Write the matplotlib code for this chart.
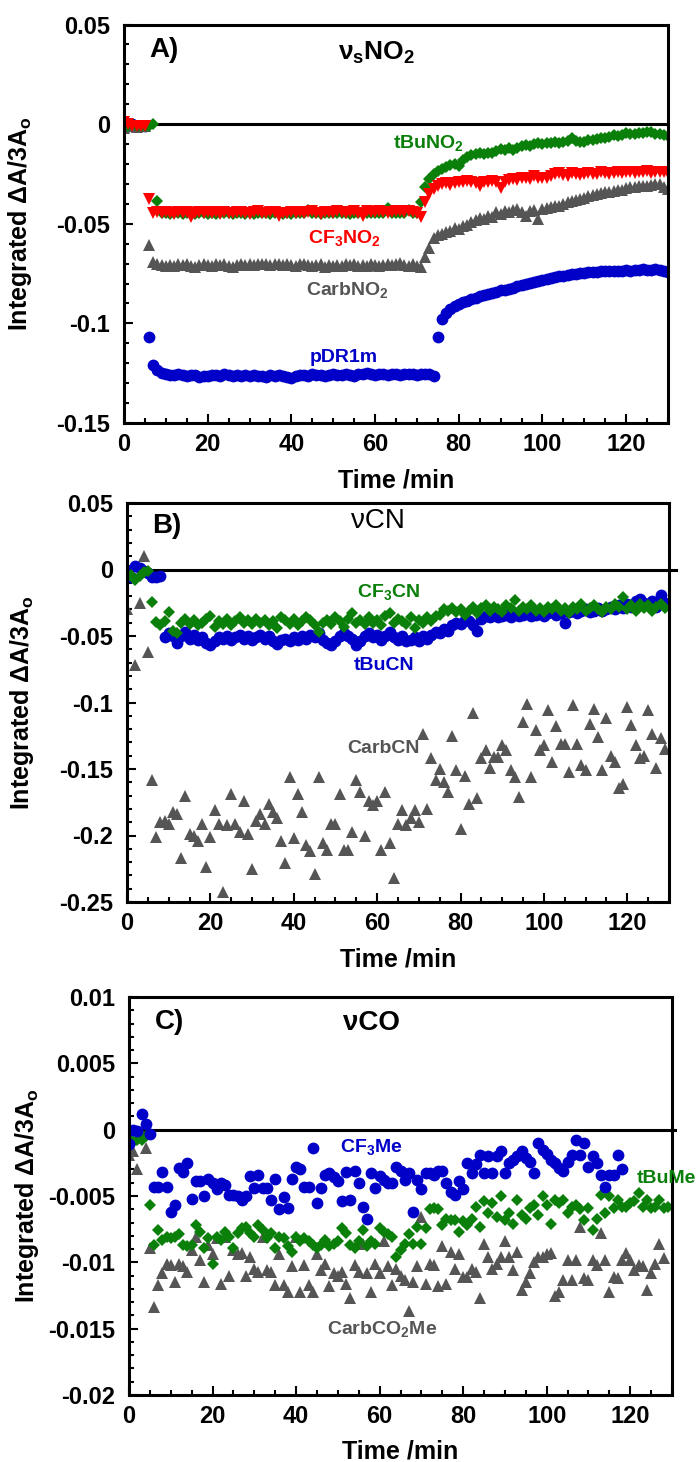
import numpy as np
import matplotlib
matplotlib.use("Agg")
import matplotlib.pyplot as plt
from matplotlib.ticker import MultipleLocator, FuncFormatter

plt.rcParams["font.family"] = ["Liberation Sans", "DejaVu Sans"]
plt.rcParams["font.weight"] = "bold"
plt.rcParams["axes.labelweight"] = "bold"
plt.rcParams["mathtext.fontset"] = "custom"
plt.rcParams["mathtext.rm"] = "Liberation Sans:bold"
plt.rcParams["mathtext.it"] = "Liberation Sans:bold"
plt.rcParams["mathtext.bf"] = "Liberation Sans:bold"
plt.rcParams["axes.unicode_minus"] = False

BLUE = "#0000c8"
GREEN = "#0a7f0a"
RED = "#ff0000"
GRAY = "#555555"

# ---- panel A: nu_s NO2 (one point per minute from t = 0) ----
a_pdr1m = [
    0.000, -0.001, 0.000, -0.001, -0.001, -0.001,
    -0.107, -0.121, -0.1235, -0.125, -0.1255,
    -0.126, -0.1258, -0.1255, -0.126, -0.1265, -0.1258, -0.126, -0.1268, -0.1262, -0.1265,
    -0.126, -0.1258, -0.1262, -0.1255, -0.126, -0.1262, -0.1258, -0.1265, -0.126, -0.1262,
    -0.1258, -0.1262, -0.1265, -0.1268, -0.126, -0.1262, -0.1258, -0.1265, -0.1268, -0.1272,
    -0.1265, -0.126, -0.1258, -0.1262, -0.1255, -0.126, -0.1258, -0.1262, -0.126, -0.1255,
    -0.1258, -0.126, -0.1255, -0.1258, -0.1262, -0.1255, -0.1252, -0.1248, -0.1255, -0.1258,
    -0.1255, -0.1252, -0.1258, -0.1255, -0.1252, -0.1258, -0.1255, -0.1252, -0.1255, -0.1258,
    -0.1255, -0.1252, -0.1255, -0.1262,
    -0.107, -0.098, -0.095, -0.093, -0.0915, -0.0905,
    -0.0895, -0.089, -0.088, -0.0875, -0.0865, -0.086, -0.0855, -0.085, -0.0845, -0.0835,
    -0.083, -0.0825, -0.082, -0.081, -0.0805, -0.080, -0.0795, -0.079, -0.0785, -0.078,
    -0.0775, -0.077, -0.0765, -0.0762, -0.076, -0.0755, -0.0752, -0.075, -0.0748, -0.0745,
    -0.0742, -0.074, -0.0742, -0.0738, -0.0735, -0.0738, -0.0735, -0.0738, -0.0735, -0.0732,
    -0.0735, -0.073, -0.0732, -0.0728, -0.073, -0.0732, -0.0728, -0.073, -0.0735, -0.074,
]
a_carb = [
    -0.002, -0.001, -0.001, -0.0015, -0.001, -0.001,
    -0.0607, -0.0690, -0.0700, -0.0705, -0.0710,
    -0.0705, -0.0712, -0.0700, -0.0708, -0.0702, -0.0710, -0.0715, -0.0705, -0.0700, -0.0708,
    -0.0712, -0.0702, -0.0706, -0.0700, -0.0710, -0.0715, -0.0705, -0.0700, -0.0708, -0.0702,
    -0.0706, -0.0700, -0.0704, -0.0702, -0.0706, -0.0700, -0.0704, -0.0708, -0.0702, -0.0706,
    -0.0710, -0.0704, -0.0700, -0.0708, -0.0712, -0.0706, -0.0702, -0.0715, -0.0708, -0.0712,
    -0.0706, -0.0710, -0.0702, -0.0708, -0.0700, -0.0712, -0.0706, -0.0710, -0.0704, -0.0708,
    -0.0712, -0.0706, -0.0702, -0.0708, -0.0700, -0.0695, -0.0706, -0.0710, -0.0700, -0.0712,
    -0.0718, -0.0666, -0.0624, -0.0574,
    -0.0557, -0.0550, -0.0540, -0.0535, -0.0520, -0.0525,
    -0.0510, -0.0507, -0.0490, -0.0480, -0.0470, -0.0475, -0.0460, -0.0465, -0.0440, -0.0450,
    -0.0435, -0.0440, -0.0432, -0.0425, -0.0440, -0.0460, -0.0435, -0.0430, -0.0475, -0.0424,
    -0.0420, -0.0415, -0.0410, -0.0410, -0.0400, -0.0390, -0.0385, -0.0380, -0.0374, -0.0370,
    -0.0360, -0.0358, -0.0350, -0.0345, -0.0340, -0.0340, -0.0335, -0.0333, -0.0330, -0.0320,
    -0.0316, -0.0316, -0.0310, -0.0310, -0.0310, -0.0305, -0.0300, -0.0300, -0.0315, -0.0324,
]
a_tbu = [
    -0.001, -0.001, 0.000, -0.001, -0.001, -0.001, -0.001, 0.000,
    -0.0387, -0.0448, -0.0445,
    -0.0450, -0.0446, -0.0448, -0.0452, -0.0445, -0.0448, -0.0450, -0.0446, -0.0448, -0.0452,
    -0.0448, -0.0450, -0.0446, -0.0448, -0.0445, -0.0450, -0.0448, -0.0446, -0.0452, -0.0448,
    -0.0450, -0.0446, -0.0448, -0.0445, -0.0450, -0.0448, -0.0446, -0.0452, -0.0448, -0.0450,
    -0.0446, -0.0448, -0.0445, -0.0430, -0.0448, -0.0446, -0.0450, -0.0448, -0.0446, -0.0448,
    -0.0445, -0.0448, -0.0446, -0.0450, -0.0448, -0.0445, -0.0448, -0.0446, -0.0448, -0.0445,
    -0.0446, -0.0448, -0.0420, -0.0445, -0.0448, -0.0446, -0.0445, -0.0430, -0.0448, -0.0445,
    -0.0390, -0.0316, -0.0274, -0.0248,
    -0.0235, -0.0225, -0.0215, -0.0205, -0.0198, -0.0210,
    -0.0180, -0.0165, -0.0155, -0.0150, -0.0147, -0.0150, -0.0143, -0.0147, -0.0135, -0.0125,
    -0.0130, -0.0122, -0.0130, -0.0120, -0.0110, -0.0105, -0.0110, -0.0100, -0.0097, -0.0102,
    -0.0095, -0.0097, -0.0092, -0.0095, -0.0089, -0.0085, -0.0072, -0.0085, -0.0088, -0.0089,
    -0.0082, -0.0078, -0.0075, -0.0072, -0.0068, -0.0065, -0.0056, -0.0062, -0.0055, -0.0047,
    -0.0052, -0.0050, -0.0047, -0.0045, -0.0042, -0.0039, -0.0048, -0.0050, -0.0055, -0.0058,
]
a_cf3 = [
    0.001, 0.000, -0.001, -0.001, -0.001, -0.001,
    -0.0376, -0.0445, -0.0440, -0.0448, -0.0442,
    -0.0445, -0.0450, -0.0442, -0.0448, -0.0440, -0.0465, -0.0445, -0.0442, -0.0448, -0.0440,
    -0.0445, -0.0442, -0.0450, -0.0440, -0.0445, -0.0448, -0.0442, -0.0440, -0.0445, -0.0450,
    -0.0442, -0.0438, -0.0445, -0.0448, -0.0442, -0.0440, -0.0462, -0.0445, -0.0448, -0.0442,
    -0.0445, -0.0440, -0.0448, -0.0442, -0.0438, -0.0445, -0.0450, -0.0442, -0.0440, -0.0445,
    -0.0438, -0.0442, -0.0445, -0.0440, -0.0435, -0.0445, -0.0462, -0.0438, -0.0442, -0.0440,
    -0.0435, -0.0442, -0.0445, -0.0440, -0.0438, -0.0435, -0.0440, -0.0438, -0.0442, -0.0448,
    -0.0465, -0.0390, -0.0350, -0.0325,
    -0.0310, -0.0300, -0.0295, -0.0307, -0.0295, -0.0292,
    -0.0288, -0.0285, -0.0290, -0.0295, -0.0310, -0.0292, -0.0288, -0.0285, -0.0292, -0.0323,
    -0.0288, -0.0280, -0.0275, -0.0280, -0.0270, -0.0268, -0.0275, -0.0262, -0.0270, -0.0268,
    -0.0272, -0.0258, -0.0252, -0.0245, -0.0255, -0.0258, -0.0245, -0.0250, -0.0255, -0.0248,
    -0.0245, -0.0250, -0.0248, -0.0242, -0.0245, -0.0250, -0.0245, -0.0240, -0.0245, -0.0238,
    -0.0242, -0.0245, -0.0238, -0.0242, -0.0235, -0.0245, -0.0240, -0.0238, -0.0242, -0.0245,
]

# ---- panel B: nu CN ----
b_tbu = [
    0.000, -0.006, 0.003, 0.001, -0.001, -0.003, -0.006, -0.006, -0.005, -0.051,
    -0.048, -0.050, -0.055, -0.050, -0.047, -0.052, -0.049, -0.053, -0.051, -0.055,
    -0.057, -0.054, -0.051, -0.052, -0.050, -0.053, -0.051, -0.049, -0.052, -0.050,
    -0.053, -0.051, -0.049, -0.052, -0.050, -0.054, -0.056, -0.053, -0.052, -0.054,
    -0.051, -0.053, -0.050, -0.052, -0.049, -0.051, -0.048, -0.053, -0.055, -0.057,
    -0.054, -0.050, -0.048, -0.050, -0.052, -0.057, -0.054, -0.050, -0.048, -0.051,
    -0.049, -0.053, -0.050, -0.047, -0.051, -0.053, -0.050, -0.054, -0.053, -0.051,
    -0.054, -0.050, -0.052, -0.049, -0.047, -0.048, -0.045, -0.046, -0.042, -0.040,
    -0.041, -0.038, -0.039, -0.042, -0.046, -0.037, -0.035, -0.036, -0.034, -0.036,
    -0.035, -0.034, -0.036, -0.033, -0.035, -0.034, -0.032, -0.035, -0.034, -0.033,
    -0.035, -0.033, -0.031, -0.034, -0.033, -0.040, -0.032, -0.031, -0.033, -0.031,
    -0.030, -0.032, -0.031, -0.029, -0.031, -0.030, -0.028, -0.030, -0.027, -0.029,
    -0.026, -0.028, -0.024, -0.022, -0.025, -0.027, -0.024, -0.028, -0.019, -0.025,
]
b_cf3 = [
    -0.006, -0.004, -0.008, -0.005, -0.002, -0.001, -0.0245, -0.0395, -0.042, -0.039,
    -0.032, -0.046, -0.048, -0.040, -0.037, -0.041, -0.038, -0.042, -0.040, -0.037,
    -0.035, -0.043, -0.039, -0.041, -0.037, -0.042, -0.039, -0.036, -0.040, -0.038,
    -0.041, -0.037, -0.040, -0.038, -0.042, -0.039, -0.044, -0.036, -0.038, -0.041,
    -0.037, -0.042, -0.039, -0.036, -0.038, -0.042, -0.047, -0.040, -0.038, -0.041,
    -0.036, -0.039, -0.043, -0.037, -0.033, -0.040, -0.038, -0.041, -0.036, -0.040,
    -0.038, -0.042, -0.035, -0.033, -0.040, -0.037, -0.039, -0.041, -0.036, -0.044,
    -0.038, -0.040, -0.036, -0.039, -0.035, -0.034, -0.030, -0.031, -0.029, -0.032,
    -0.030, -0.034, -0.031, -0.028, -0.033, -0.029, -0.027, -0.031, -0.028, -0.030,
    -0.032, -0.027, -0.029, -0.023, -0.031, -0.028, -0.030, -0.027, -0.031, -0.029,
    -0.032, -0.028, -0.030, -0.027, -0.031, -0.029, -0.033, -0.028, -0.030, -0.026,
    -0.031, -0.029, -0.027, -0.030, -0.032, -0.028, -0.030, -0.026, -0.028, -0.021,
    -0.030, -0.027, -0.031, -0.026, -0.029, -0.027, -0.031, -0.028, -0.026, -0.029,
]
b_carb = [
    -0.030, -0.004, -0.072, -0.025, 0.010, -0.062, -0.158, -0.201, -0.190, -0.189,
    -0.191, -0.182, -0.184, -0.217, -0.170, -0.199, -0.200, -0.204, -0.191, -0.224,
    -0.201, -0.181, -0.191, -0.2425, -0.192, -0.169, -0.191, -0.197, -0.174, -0.199,
    -0.225, -0.189, -0.184, -0.191, -0.176, -0.182, -0.187, -0.204, -0.221, -0.156,
    -0.202, -0.169, -0.182, -0.207, -0.212, -0.229, -0.156, -0.206, -0.211, -0.191,
    -0.191, -0.169, -0.211, -0.211, -0.197, -0.158, -0.167, -0.200, -0.174, -0.177,
    -0.174, -0.211, -0.167, -0.206, -0.232, -0.191, -0.181, -0.192, -0.187, -0.181,
    -0.190, -0.1235, -0.180, -0.142, -0.158, -0.150, -0.160, -0.167, -0.125, -0.151,
    -0.195, -0.155, -0.176, -0.108, -0.172, -0.142, -0.136, -0.149, -0.141, -0.141,
    -0.132, -0.136, -0.151, -0.156, -0.171, -0.115, -0.101, -0.156, -0.121, -0.136,
    -0.132, -0.106, -0.145, -0.118, -0.131, -0.131, -0.152, -0.102, -0.131, -0.147,
    -0.151, -0.116, -0.105, -0.126, -0.151, -0.112, -0.140, -0.145, -0.164, -0.161,
    -0.1035, -0.117, -0.132, -0.142, -0.140, -0.106, -0.1235, -0.149, -0.127, -0.135,
]

# ---- panel C: nu CO ----
c_cf3 = [
    -0.0011, 0.0000, -0.0001, 0.0012, 0.0004, -0.0003, -0.0043, -0.0043, -0.0032, -0.0043,
    -0.0062, -0.0057, -0.0029, -0.0032, -0.0025, -0.0052, -0.0039, -0.0039, -0.0050, -0.0037,
    -0.0040, -0.0045, -0.0040, -0.0042, -0.0049, -0.0049, -0.0050, -0.0053, -0.0050, -0.0035,
    -0.0044, -0.0034, -0.0044, -0.0044, -0.0053, -0.0037, -0.0060, -0.0051, -0.0059, -0.0037,
    -0.0028, -0.0030, -0.0043, -0.0043, -0.0014, -0.0055, -0.0044, -0.0034, -0.0033, -0.0036,
    -0.0039, -0.0054, -0.0032, -0.0053, -0.0031, -0.0040, -0.0058, -0.0067, -0.0033, -0.0044,
    -0.0035, -0.0038, -0.0040, -0.0040, -0.0028, -0.0031, -0.0038, -0.0033, -0.0062, -0.0038,
    -0.0045, -0.0033, -0.0033, -0.0034, -0.0031, -0.0031, -0.0040, -0.0047, -0.0049, -0.0039,
    -0.0045, -0.0025, -0.0033, -0.0026, -0.0019, -0.0033, -0.0020, -0.0033, -0.0020, -0.0016,
    -0.0033, -0.0025, -0.0023, -0.0020, -0.0016, -0.0021, -0.0024, -0.0033, -0.0010, -0.0015,
    -0.0018, -0.0023, -0.0025, -0.0029, -0.0031, -0.0024, -0.0019, -0.0008, -0.0019, -0.0010,
    -0.0028, -0.0020, -0.0025, -0.0034, -0.0043, -0.0034, -0.0034, -0.0019, -0.0030,
]
c_tbu = [
    -0.0004, -0.0009, -0.0008, -0.0008, -0.0005, -0.0057, -0.0087, -0.0076, -0.0083, -0.0081,
    -0.0082, -0.0081, -0.0079, -0.0087, -0.0088, -0.0087, -0.0072, -0.0077, -0.0089, -0.0082,
    -0.0101, -0.0081, -0.0083, -0.0077, -0.0081, -0.0089, -0.0078, -0.0074, -0.0073, -0.0078,
    -0.0081, -0.0072, -0.0076, -0.0082, -0.0078, -0.0089, -0.0081, -0.0082, -0.0088, -0.0092,
    -0.0081, -0.0084, -0.0082, -0.0084, -0.0087, -0.0089, -0.0087, -0.0083, -0.0088, -0.0086,
    -0.0084, -0.0074, -0.0078, -0.0087, -0.0089, -0.0084, -0.0076, -0.0088, -0.0084, -0.0086,
    -0.0074, -0.0077, -0.0079, -0.0081, -0.0096, -0.0091, -0.0086, -0.0079, -0.0086, -0.0073,
    -0.0086, -0.0074, -0.0060, -0.0059, -0.0060, -0.0072, -0.0067, -0.0068, -0.0068, -0.0077,
    -0.0069, -0.0072, -0.0067, -0.0058, -0.0073, -0.0054, -0.0063, -0.0055, -0.0066, -0.0050,
    -0.0068, -0.0063, -0.0071, -0.0053, -0.0064, -0.0067, -0.0059, -0.0057, -0.0064, -0.0050,
    -0.0057, -0.0071, -0.0053, -0.0055, -0.0053, -0.0063, -0.0058, -0.0057, -0.0060, -0.0068,
    -0.0059, -0.0076, -0.0067, -0.0049, -0.0063, -0.0050, -0.0059, -0.0053, -0.0058, -0.0058,
    -0.0055, -0.0054, -0.0048, -0.0058, -0.0053, -0.0059, -0.0058, -0.0053, -0.0059, -0.0058,
]
c_carb = [
    -0.0019, -0.0016, -0.0030, -0.0003, -0.0014, -0.0089, -0.0134, -0.0117, -0.0108, -0.0101,
    -0.0102, -0.0115, -0.0101, -0.0103, -0.0107, -0.0091, -0.0081, -0.0098, -0.0115, -0.0087,
    -0.0094, -0.0082, -0.0116, -0.0081, -0.0110, -0.0091, -0.0094, -0.0093, -0.0110, -0.0096,
    -0.0105, -0.0107, -0.0081, -0.0106, -0.0107, -0.0117, -0.0094, -0.0117, -0.0122, -0.0103,
    -0.0081, -0.0122, -0.0102, -0.0117, -0.0122, -0.0094, -0.0106, -0.0101, -0.0118, -0.0108,
    -0.0110, -0.0107, -0.0116, -0.0127, -0.0102, -0.0107, -0.0086, -0.0108, -0.0122, -0.0101,
    -0.0108, -0.0084, -0.0103, -0.0117, -0.0105, -0.0110, -0.0113, -0.0137, -0.0115, -0.0103,
    -0.0066, -0.0116, -0.0101, -0.0102, -0.0118, -0.0088, -0.0116, -0.0092, -0.0105, -0.0094,
    -0.0111, -0.0111, -0.0105, -0.0107, -0.0127, -0.0086, -0.0096, -0.0105, -0.0101, -0.0096,
    -0.0084, -0.0096, -0.0106, -0.0092, -0.0121, -0.0115, -0.0108, -0.0100, -0.0096, -0.0096,
    -0.0094, -0.0093, -0.0125, -0.0122, -0.0113, -0.0098, -0.0113, -0.0098, -0.0073, -0.0112,
    -0.0113, -0.0098, -0.0102, -0.0078, -0.0098, -0.0122, -0.0111, -0.0112, -0.0098, -0.0093,
    -0.0098, -0.0106, -0.0102, -0.0103, -0.0121, -0.0108, -0.0101, -0.0086, -0.0097,
]

W, H = 698, 1462
MS_CIRCLE = 8.5
MS_TRI = 9
MS_DIAMOND = 6


def make_axes(fig, left, right, top, bottom):
    return fig.add_axes([left / W, 1 - bottom / H, (right - left) / W, (bottom - top) / H])


def style_axes(ax, ylim, ymajor, yminor, label_x):
    ax.set_xlim(0, 130)
    ax.set_ylim(*ylim)
    ax.xaxis.set_major_locator(MultipleLocator(20))
    ax.xaxis.set_minor_locator(MultipleLocator(5))
    ax.yaxis.set_major_locator(MultipleLocator(ymajor))
    ax.yaxis.set_minor_locator(MultipleLocator(yminor))
    fmt = FuncFormatter(lambda v, p: "0" if abs(v) < 1e-9 else f"{v:g}")
    ax.yaxis.set_major_formatter(fmt)
    ax.tick_params(which="both", direction="in", top=False, right=False, width=1.5)
    ax.tick_params(which="major", length=6.5, labelsize=17)
    ax.tick_params(which="minor", length=3.6)
    ax.tick_params(axis="x", pad=7)
    ax.tick_params(axis="y", pad=10)
    for s in ax.spines.values():
        s.set_linewidth(2.2)
    ax.set_xlabel("Time /min", fontsize=18, fontweight="bold")
    ax.xaxis.set_label_coords(0.5, -0.113)
    ax.set_ylabel("Integrated \u0394A/3A$_{o}$", fontsize=18, fontweight="bold")
    ax.yaxis.set_label_coords(label_x, 0.5)


def pts(ax, vals, marker, color, ms):
    t = np.arange(len(vals))
    ax.plot(t, vals, linestyle="none", marker=marker, color=color,
            markersize=ms, markeredgewidth=0)


fig = plt.figure(figsize=(W / 100, H / 100), dpi=100)

# ---- A ----
ax = make_axes(fig, 124, 668, 24.5, 423)
style_axes(ax, (-0.15, 0.05), 0.05, 0.01, -0.165)
ax.axhline(0, color="black", lw=2.2, zorder=1)
pts(ax, a_pdr1m, "o", BLUE, MS_CIRCLE)
pts(ax, a_carb, "^", GRAY, MS_TRI)
pts(ax, a_tbu, "D", GREEN, MS_DIAMOND)
pts(ax, a_cf3, "v", RED, MS_TRI)
ax.text(0.074, 0.936, "A)", transform=ax.transAxes, fontsize=20, ha="center", va="center")
ax.text(0.465, 0.911, "\u03bd$_{s}$NO$_{2}$", transform=ax.transAxes, fontsize=19,
        ha="center", va="baseline")
ax.text(64.4, -0.0122, "tBuNO$_{2}$", color=GREEN, fontsize=14, ha="left", va="baseline")
ax.text(52.7, -0.0596, "CF$_{3}$NO$_{2}$", color=RED, fontsize=14, ha="center", va="baseline")
ax.text(53.5, -0.0856, "CarbNO$_{2}$", color=GRAY, fontsize=14, ha="center", va="baseline")
ax.text(52.6, -0.1194, "pDR1m", color=BLUE, fontsize=14, ha="center", va="baseline")

# ---- B ----
ax = make_axes(fig, 127, 669, 503, 902)
style_axes(ax, (-0.25, 0.05), 0.05, 0.01, -0.168)
ax.axhline(0, xmax=1.012, color="black", lw=2.2, zorder=1, clip_on=False)
pts(ax, b_carb, "^", GRAY, MS_TRI)
pts(ax, b_tbu, "o", BLUE, MS_CIRCLE)
pts(ax, b_cf3, "D", GREEN, MS_DIAMOND)
ax.text(0.074, 0.942, "B)", transform=ax.transAxes, fontsize=20, ha="center", va="center")
ax.text(0.463, 0.955, "\u03bdCN", transform=ax.transAxes, fontsize=20, fontweight="normal",
        ha="center", va="center")
ax.text(62.8, -0.0205, "CF$_{3}$CN", color=GREEN, fontsize=14, ha="center", va="baseline")
ax.text(61.7, -0.0756, "tBuCN", color=BLUE, fontsize=14, ha="center", va="baseline")
ax.text(61.5, -0.138, "CarbCN", color=GRAY, fontsize=14, ha="center", va="baseline")

# ---- C ----
ax = make_axes(fig, 129, 672, 997, 1395)
style_axes(ax, (-0.02, 0.01), 0.005, 0.001, -0.162)
ax.axhline(0, xmax=1.006, color="black", lw=2.2, zorder=1, clip_on=False)
pts(ax, c_carb, "^", GRAY, MS_TRI)
pts(ax, c_tbu, "D", GREEN, MS_DIAMOND)
pts(ax, c_cf3, "o", BLUE, MS_CIRCLE)
ax.text(0.074, 0.937, "C)", transform=ax.transAxes, fontsize=20, ha="center", va="center")
ax.text(0.446, 0.935, "\u03bdCO", transform=ax.transAxes, fontsize=20, ha="center", va="center")
ax.text(57.9, -0.00166, "CF$_{3}$Me", color=BLUE, fontsize=14, ha="center", va="baseline")
ax.text(121.5, -0.00404, "tBuMe", color=GREEN, fontsize=14, ha="left", va="baseline")
ax.text(60.5, -0.0154, "CarbCO$_{2}$Me", color=GRAY, fontsize=14, ha="center", va="baseline")

fig.savefig("out.png", dpi=100)
